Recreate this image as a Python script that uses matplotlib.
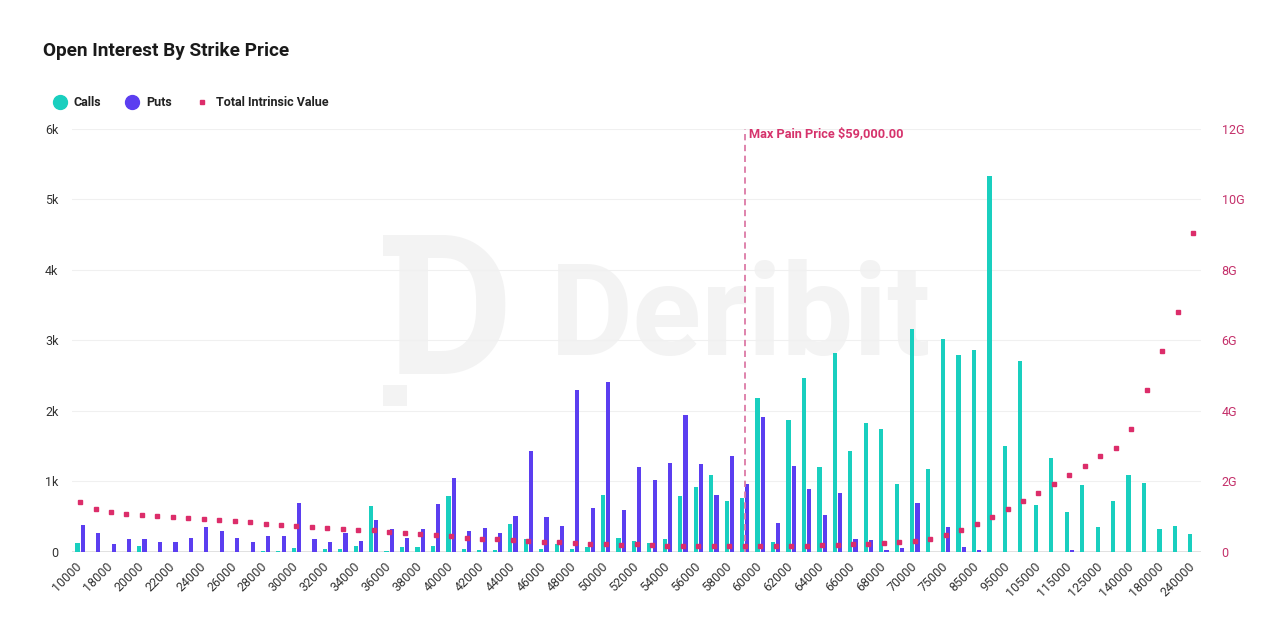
import numpy as np
import matplotlib
matplotlib.use('Agg')
import matplotlib.pyplot as plt
from matplotlib.lines import Line2D
from matplotlib.patches import Rectangle

plt.rcParams['font.family'] = ['Roboto', 'DejaVu Sans']

# strikes (categories)
strikes = [10000, 15000, 18000, 19000, 20000, 21000, 22000, 23000, 24000, 25000,
           26000, 27000, 28000, 29000, 30000, 31000, 32000, 33000, 34000, 35000,
           36000, 37000, 38000, 39000, 40000, 41000, 42000, 43000, 44000, 45000,
           46000, 47000, 48000, 49000, 50000, 51000, 52000, 53000, 54000, 55000,
           56000, 57000, 58000, 59000, 60000, 61000, 62000, 63000, 64000, 65000,
           66000, 67000, 68000, 69000, 70000, 72000, 75000, 80000, 85000, 90000,
           95000, 100000, 105000, 110000, 115000, 120000, 125000, 130000, 140000, 150000,
           180000, 200000, 240000]

calls = [128, 0, 0, 0, 85, 0, 0, 0, 0, 0,
         0, 0, 20, 20, 52, 0, 38, 38, 80, 657,
         20, 71, 71, 85, 794, 43, 28, 28, 402, 184,
         43, 109, 43, 76, 813, 203, 156, 128, 184, 799,
         917, 1097, 719, 766, 2184, 142, 1872, 2468, 1206, 2827,
         1433, 1825, 1749, 969, 3168, 1173, 3021, 2794, 2865, 5333,
         1503, 2710, 671, 1338, 567, 946, 355, 723, 1092, 979,
         331, 369, 255]

puts = [383, 265, 113, 184, 184, 142, 142, 203, 355, 298,
        203, 142, 222, 222, 690, 184, 142, 265, 156, 459,
        326, 203, 326, 676, 1054, 298, 340, 270, 515, 1437,
        496, 374, 2298, 629, 2416, 600, 1210, 1026, 1262, 1943,
        1248, 808, 1366, 964, 1915, 411, 1220, 898, 525, 842,
        189, 175, 28, 57, 690, 0, 355, 71, 28, 0,
        0, 0, 0, 0, 28, 0, 0, 0, 0, 0,
        0, 0, 0]

# total intrinsic value, in G
intrinsic = [1.41, 1.23, 1.14, 1.08, 1.05, 1.02, 0.99, 0.96, 0.93, 0.90,
             0.87, 0.84, 0.80, 0.78, 0.75, 0.72, 0.69, 0.65, 0.63, 0.61,
             0.57, 0.53, 0.51, 0.47, 0.45, 0.41, 0.38, 0.38, 0.35, 0.32,
             0.29, 0.29, 0.26, 0.24, 0.24, 0.21, 0.22, 0.21, 0.18, 0.18,
             0.18, 0.18, 0.18, 0.18, 0.18, 0.18, 0.18, 0.18, 0.20, 0.21,
             0.23, 0.24, 0.26, 0.29, 0.32, 0.38, 0.48, 0.63, 0.80, 0.99,
             1.23, 1.45, 1.68, 1.94, 2.19, 2.45, 2.71, 2.96, 3.50, 4.60,
             5.70, 6.81, 9.05]

max_pain = 59000

c_calls = '#19cfbf'
c_puts = '#5b3ef0'
c_iv = '#dc2d6a'

fig = plt.figure(figsize=(12.8, 6.4), dpi=100)
ax = fig.add_axes([0.0565, 0.1375, 0.8816, 0.661])
ax2 = ax.twinx()

x = np.arange(len(strikes))
w = 0.27
off = 0.17

# watermark (logo + name)
wm = '#f3f3f3'
ax.text(0.592, 0.548, 'Deribit', transform=ax.transAxes, fontsize=92,
        fontweight='bold', color=wm, ha='center', va='center', zorder=0)
ax.text(0.335, 0.545, 'D', transform=ax.transAxes, fontsize=140,
        fontweight='bold', color=wm, ha='center', va='center', zorder=0)
for yb in (0.70, 0.345):
    ax.add_patch(Rectangle((0.275, yb), 0.022, 0.05, transform=ax.transAxes,
                           color=wm, zorder=0, lw=0))

ax.bar(x - off, calls, width=w, color=c_calls, zorder=2)
ax.bar(x + off, puts, width=w, color=c_puts, zorder=2)

ax.set_xlim(-0.5, len(strikes) - 0.5)
ax.set_ylim(0, 6000)
ax.set_yticks([0, 1000, 2000, 3000, 4000, 5000, 6000])
ax.set_yticklabels(['0', '1k', '2k', '3k', '4k', '5k', '6k'])
ax.grid(axis='y', color='#f0f0f0', lw=0.8, zorder=0)
ax.set_axisbelow(True)
ax.axhline(0, color='#dcdcdc', lw=1.2, zorder=1)
for s in ax.spines.values():
    s.set_visible(False)
for s in ax2.spines.values():
    s.set_visible(False)

ax.set_xticks(x[::2])
ax.set_xticklabels([str(s) for s in strikes[::2]], rotation=45, ha='right',
                   va='center', rotation_mode='anchor')
ax.tick_params(axis='x', length=0, pad=9, labelsize=9, labelcolor='#333333')
ax.tick_params(axis='y', length=0, pad=10, labelsize=9, labelcolor='#333333')

ax2.plot(x, intrinsic, 's', color=c_iv, ms=3.5, ls='none', zorder=3)
ax2.set_ylim(0, 12)
ax2.set_yticks([0, 2, 4, 6, 8, 10, 12])
ax2.set_yticklabels(['0', '2G', '4G', '6G', '8G', '10G', '12G'])
ax2.tick_params(axis='y', length=0, pad=15, labelsize=9, labelcolor='#c4306a')

mp = strikes.index(max_pain)
ax.axvline(mp, color='#dc7aa6', lw=1.3, ls=(0, (3.5, 2.5)), zorder=3)
ax.text(mp + 0.3, 5930, 'Max Pain Price $59,000.00', color='#d6336c',
        fontsize=9.2, fontweight='bold', ha='left', va='center', zorder=4)

fig.text(0.0335, 0.921, 'Open Interest By Strike Price', fontsize=13.7,
         fontweight='bold', color='#1a1a1a', ha='left', va='center')

# legend, drawn by hand
ly = 1 - 102 / 640
leg_items = [('Calls', 'o', c_calls, 10, 60, 73),
             ('Puts', 'o', c_puts, 10, 132, 146),
             ('Total Intrinsic Value', 's', c_iv, 3.5, 202, 216)]
for lab, mk, col, ms, mx, tx in leg_items:
    fig.add_artist(Line2D([mx / 1280], [ly], marker=mk, color=col, ms=ms,
                          ls='none', transform=fig.transFigure))
    fig.text(tx / 1280, ly, lab, fontsize=9, fontweight='bold',
             color='#222222', ha='left', va='center')

fig.savefig('out.png', dpi=100, facecolor='white')
